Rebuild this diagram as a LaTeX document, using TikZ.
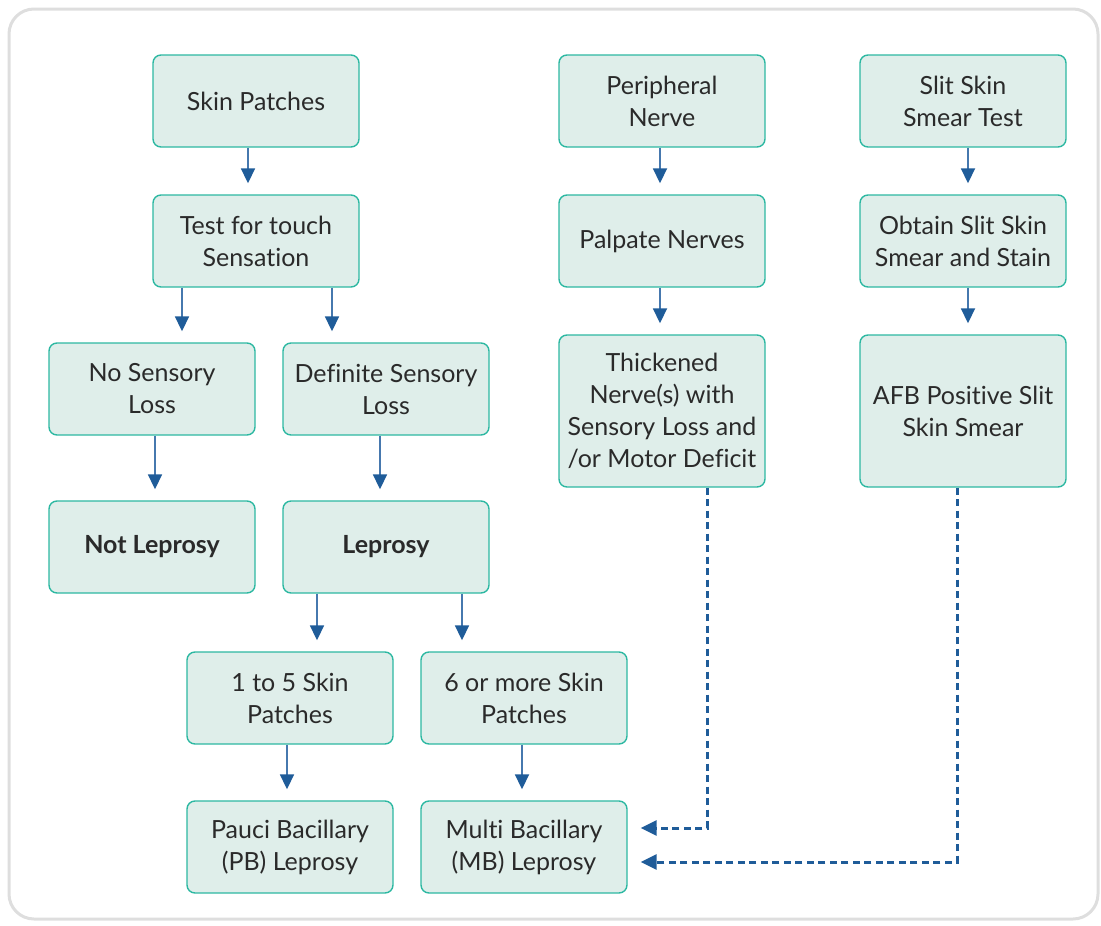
\documentclass[tikz,border=0pt]{standalone}
\usepackage{fontspec}
\setmainfont{Lato}[Ligatures={NoCommon,NoRare,NoDiscretionary,NoContextual}]
\usetikzlibrary{arrows.meta}
\definecolor{boxfill}{HTML}{DFEEEA}
\definecolor{boxline}{HTML}{2DB8A2}
\definecolor{txt}{HTML}{2A2A2A}
\definecolor{arrline}{HTML}{4678AE}
\definecolor{arrhead}{HTML}{1F5C99}
\definecolor{frame}{HTML}{DEDEDE}
\tikzset{
  box/.style={draw=boxline, line width=1.4pt, fill=boxfill, rounded corners=8pt,
    minimum width=206pt, minimum height=92pt, align=center, text=txt,
    inner sep=0pt, font=\fontsize{25}{32}\selectfont},
  tall/.style={minimum height=152pt},
  arr/.style={draw=arrline, line width=1.8pt, shorten >=11pt,
    -{Triangle[length=15pt,width=14pt,color=arrhead]}},
  dasharr/.style={draw=arrhead, line width=3pt, dash pattern=on 7pt off 4.5pt,
    -{Triangle[length=16pt,width=15pt,color=arrhead]}, shorten >=13pt}
}
\begin{document}
\begin{tikzpicture}[x=1pt,y=-1pt]
\useasboundingbox (0,0) rectangle (1101,926);
\draw[frame, line width=3pt, rounded corners=25pt] (9,9) rectangle (1098,919);

% left column: skin patches
\node[box] (skin) at (256,101) {Skin Patches};
\node[box] (test) at (256,241) {Test for touch\\Sensation};
\node[box] (nosens) at (152,389) {No Sensory\\Loss};
\node[box] (defsens) at (386,389) {Definite Sensory\\Loss};
\node[box] (notlep) at (152,547) {\textbf{Not Leprosy}};
\node[box] (lep) at (386,547) {\textbf{Leprosy}};
\node[box] (few) at (290,698) {1 to 5 Skin\\Patches};
\node[box] (many) at (524,698) {6 or more Skin\\Patches};
\node[box] (pb) at (290,847) {Pauci Bacillary\\(PB) Leprosy};
\node[box] (mb) at (524,847) {Multi Bacillary\\(MB) Leprosy};

% middle column: nerves
\node[box] (nerve) at (662,101) {Peripheral\\Nerve};
\node[box] (palp) at (662,241) {Palpate Nerves};
\node[box, tall] (thick) at (662,411) {Thickened\\Nerve(s) with\\Sensory Loss and\\/or Motor Deficit};

% right column: smear test
\node[box] (slit) at (963,101) {Slit Skin\\Smear Test};
\node[box] (obtain) at (963,241) {Obtain Slit Skin\\Smear and Stain};
\node[box, tall] (afb) at (963,411) {AFB Positive Slit\\Skin Smear};

% solid arrows
\draw[arr] ([xshift=-8pt]skin.south) -- ([xshift=-8pt]skin.south |- test.north);
\draw[arr] ([xshift=-74pt]test.south) -- ([xshift=-74pt]test.south |- nosens.north);
\draw[arr] ([xshift=76pt]test.south) -- ([xshift=76pt]test.south |- defsens.north);
\draw[arr] ([xshift=3pt]nosens.south) -- ([xshift=3pt]nosens.south |- notlep.north);
\draw[arr] ([xshift=-6pt]defsens.south) -- ([xshift=-6pt]defsens.south |- lep.north);
\draw[arr] ([xshift=-69pt]lep.south) -- ([xshift=-69pt]lep.south |- few.north);
\draw[arr] ([xshift=76pt]lep.south) -- ([xshift=76pt]lep.south |- many.north);
\draw[arr] ([xshift=-3pt]few.south) -- ([xshift=-3pt]few.south |- pb.north);
\draw[arr] ([xshift=-2pt]many.south) -- ([xshift=-2pt]many.south |- mb.north);
\draw[arr] ([xshift=-2pt]nerve.south) -- ([xshift=-2pt]nerve.south |- palp.north);
\draw[arr] ([xshift=-2pt]palp.south) -- ([xshift=-2pt]palp.south |- thick.north);
\draw[arr] ([xshift=5pt]slit.south) -- ([xshift=5pt]slit.south |- obtain.north);
\draw[arr] ([xshift=5pt]obtain.south) -- ([xshift=5pt]obtain.south |- afb.north);

% dashed arrows into the MB box
\draw[dasharr] ([xshift=45pt]thick.south) |- ([yshift=19pt]mb.east);
\draw[dasharr] ([xshift=-6pt]afb.south) |- ([yshift=-15pt]mb.east);
\end{tikzpicture}
\end{document}
